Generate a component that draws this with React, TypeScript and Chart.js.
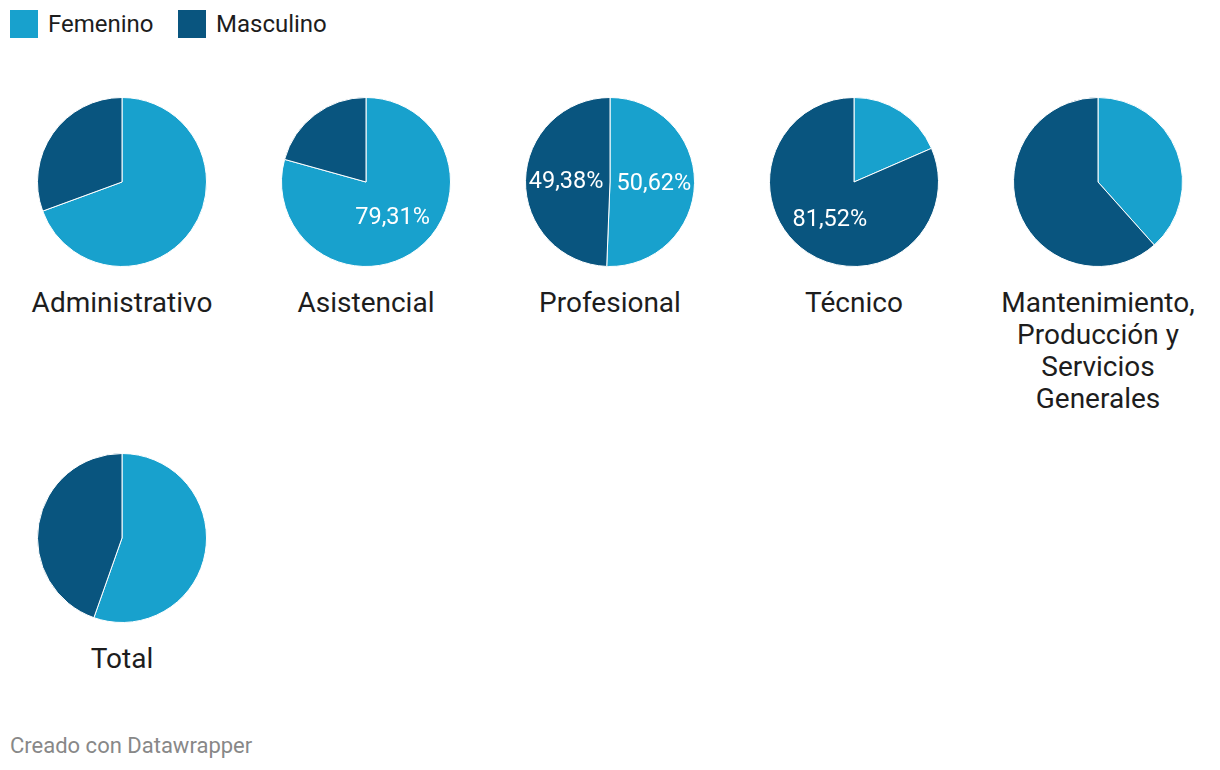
import React, { useEffect, useRef } from "react";
import { Chart, registerables } from "chart.js";

Chart.register(...registerables);

const categories: string[][] = [
  ["Administrativo"],
  ["Asistencial"],
  ["Profesional"],
  ["Técnico"],
  ["Mantenimiento,", "Producción y", "Servicios", "Generales"],
  ["Total"],
];
const seriesNames = ["Femenino", "Masculino"];
const femenino = [69.4, 79.31, 50.62, 18.48, 38.4, 55.4];
const masculino = [30.6, 20.69, 49.38, 81.52, 61.6, 44.6];
// which slice labels are shown: [femenino, masculino]
const showLabels: boolean[][] = [
  [false, false],
  [true, false],
  [true, true],
  [false, true],
  [false, false],
  [false, false],
];

const COLORS = ["#18a1cd", "#09557f"];
const FONT = "Roboto, 'Noto Sans', sans-serif";

const CANVAS = 170;
const centers = [
  [122, 182],
  [366, 182],
  [610, 182],
  [854, 182],
  [1098, 182],
  [122, 538],
];

const fmt = (v: number) => v.toFixed(2).replace(".", ",") + "%";

const labelPlugin = {
  id: "sliceLabels",
  afterDatasetsDraw(chart: any, _args: any, opts: any) {
    const ctx = chart.ctx;
    const meta = chart.getDatasetMeta(0);
    const flags: boolean[] = opts.flags || [];
    const data = chart.data.datasets[0].data as number[];
    ctx.save();
    ctx.fillStyle = "#ffffff";
    ctx.font = `23.5px ${FONT}`;
    ctx.textAlign = "center";
    ctx.textBaseline = "middle";
    meta.data.forEach((arc: any, i: number) => {
      if (!flags[i]) return;
      const { x, y, startAngle, endAngle, outerRadius } = arc.getProps(
        ["x", "y", "startAngle", "endAngle", "outerRadius"],
        true
      );
      const mid = (startAngle + endAngle) / 2;
      const r = outerRadius * 0.52;
      ctx.fillText(fmt(data[i]), x + Math.cos(mid) * r, y + Math.sin(mid) * r + 1);
    });
    ctx.restore();
  },
};

function Pie({ idx }: { idx: number }) {
  const ref = useRef<HTMLCanvasElement>(null);
  useEffect(() => {
    if (!ref.current) return;
    const chart = new Chart(ref.current, {
      type: "pie",
      data: {
        labels: seriesNames,
        datasets: [
          {
            data: [femenino[idx], masculino[idx]],
            backgroundColor: COLORS,
            borderColor: "#ffffff",
            borderWidth: 1,
          },
        ],
      },
      options: {
        responsive: false,
        animation: false,
        layout: { padding: 0 },
        plugins: {
          legend: { display: false },
          tooltip: { enabled: false },
          sliceLabels: { flags: showLabels[idx] },
        } as any,
      },
      plugins: [labelPlugin],
    });
    return () => chart.destroy();
  }, [idx]);
  const [cx, cy] = centers[idx];
  return (
    <>
      <canvas
        ref={ref}
        width={CANVAS}
        height={CANVAS}
        style={{
          position: "absolute",
          left: cx - CANVAS / 2,
          top: cy - CANVAS / 2,
          width: CANVAS,
          height: CANVAS,
        }}
      />
      <div
        style={{
          position: "absolute",
          left: cx - 122,
          top: cy + 105,
          width: 244,
          textAlign: "center",
          fontFamily: FONT,
          fontSize: 28,
          lineHeight: "32px",
          color: "#1d1d1d",
        }}
      >
        {categories[idx].map((line, j) => (
          <div key={j}>{line}</div>
        ))}
      </div>
    </>
  );
}

export default function App() {
  return (
    <div
      style={{
        position: "fixed",
        left: 0,
        top: 0,
        width: 1220,
        height: 770,
        background: "#ffffff",
        fontFamily: FONT,
        overflow: "hidden",
      }}
    >
      {seriesNames.map((name, i) => (
        <div
          key={name}
          style={{
            position: "absolute",
            left: i === 0 ? 10 : 178,
            top: 10,
            height: 28,
            display: "flex",
            alignItems: "center",
          }}
        >
          <div style={{ width: 28, height: 28, background: COLORS[i] }} />
          <span
            style={{
              marginLeft: 10,
              fontSize: 24,
              color: "#1d1d1d",
              lineHeight: "28px",
            }}
          >
            {name}
          </span>
        </div>
      ))}
      {categories.map((_, i) => (
        <Pie key={i} idx={i} />
      ))}
      <div
        style={{
          position: "absolute",
          left: 10,
          top: 733,
          fontSize: 22,
          color: "#888888",
          lineHeight: "26px",
        }}
      >
        Creado con Datawrapper
      </div>
    </div>
  );
}
